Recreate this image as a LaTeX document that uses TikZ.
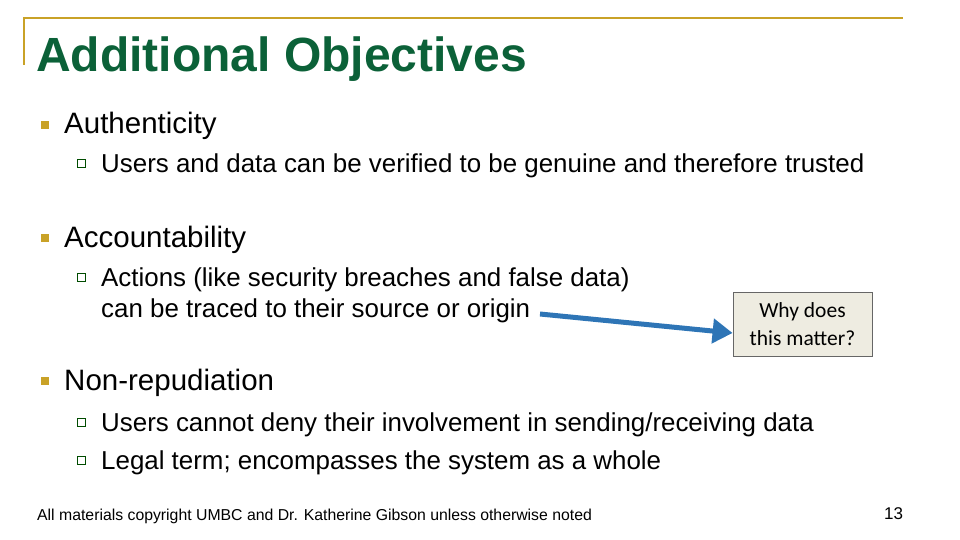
\documentclass[tikz,border=0pt]{standalone}
\usepackage{fontspec}
\setmainfont{Liberation Sans}
\newfontfamily\calfont{Carlito}
\usetikzlibrary{arrows.meta}
\definecolor{ttl}{HTML}{0B6138}
\definecolor{gold}{HTML}{C9A227}
\definecolor{arr}{HTML}{2E75B6}
\definecolor{boxf}{HTML}{EEECE1}
\begin{document}
\begin{tikzpicture}[x=1pt,y=-1pt,
 txt/.style={anchor=base west,inner sep=0pt},
 lvl1/.style={txt,font=\fontsize{29.5}{32}\selectfont},
 lvl2/.style={txt,font=\fontsize{25.9}{30}\selectfont},
 b1/.style={fill=gold,minimum size=7.5pt,inner sep=0pt},
 b2/.style={draw=black!70!green,line width=0.9pt,minimum size=8pt,inner sep=0pt}]
\useasboundingbox (0,0) rectangle (960,540);
\draw[gold,line width=2.5pt] (24,65) -- (24,18) -- (903,18);
\node[txt,font=\bfseries\fontsize{48}{52}\selectfont,text=ttl] (title) at (36,72) {Additional Objectives};
\node[b1] (p1) at (45,125) {};
\node[lvl1] (a) at (64,134) {Authenticity};
\node[b2] (q1) at (81,163) {};
\node[lvl2] (a1) at (101,172) {Users and data can be verified to be genuine and therefore trusted};
\node[b1] (p2) at (45,238) {};
\node[lvl1] (b) at (64,247) {Accountability};
\node[b2] (q2) at (81,277) {};
\node[lvl2] (b1) at (101,286) {Actions (like security breaches and false data)};
\node[lvl2] (b2) at (101,317) {can be traced to their source or origin};
\node[b1] (p3) at (45,381) {};
\node[lvl1] (c) at (64,390) {Non-repudiation};
\node[b2] (q3) at (81,422) {};
\node[lvl2] (c1) at (101,431) {Users cannot deny their involvement in sending/receiving data};
\node[b2] (q4) at (81,460) {};
\node[lvl2] (c2) at (101,469) {Legal term; encompasses the system as a whole};
\node[draw=black!60,fill=boxf,line width=0.8pt,minimum width=139pt,minimum height=64pt,align=center,inner sep=2pt,font=\calfont\fontsize{21.5}{28}\selectfont] (box) at (802.5,324) {Why does\\this matter?};
\coordinate (s) at (540,314);
\draw[arr,line width=5pt,-{Triangle[length=20pt,width=24pt]}] (s) -- (box.west|-0,333) coordinate (e);
\node[txt,font=\fontsize{15.8}{18}\selectfont] (foot) at (37,520) {All materials copyright UMBC and Dr. Katherine Gibson unless otherwise noted};
\node[txt,font=\fontsize{17}{19}\selectfont] (num) at (884,519) {13};
\end{tikzpicture}
\end{document}
